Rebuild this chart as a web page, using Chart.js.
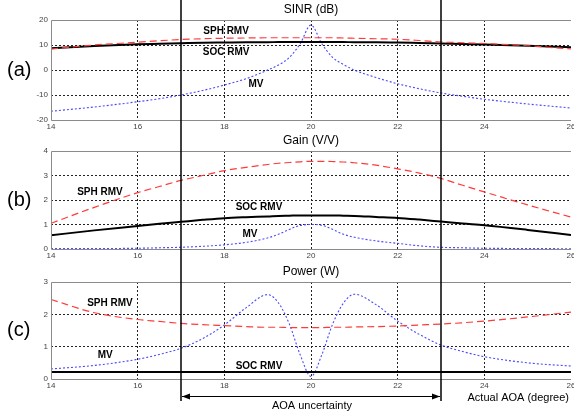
<!DOCTYPE html>
<html>
<head>
<meta charset="UTF-8">
<title>SINR / Gain / Power vs actual AOA</title>
<script src="https://cdn.jsdelivr.net/npm/chart.js"></script>
<style>
  body { margin: 0; background: #fff; }
  #wrap { position: relative; width: 574px; height: 415px; overflow: hidden; }
  .panel { position: absolute; left: 0; width: 574px; }
</style>
</head>
<body>
<div id="wrap">
  <div class="panel" style="top:0;height:132px"><canvas id="cA"></canvas></div>
  <div class="panel" style="top:132px;height:130px"><canvas id="cB"></canvas></div>
  <div class="panel" style="top:262px;height:153px"><canvas id="cC"></canvas></div>
</div>
<script>
// actual AOA (degree), sampled denser around the 20 degree look direction
const angles = [14, 15, 16, 16.5, 17, 17.5, 18, 18.5, 19, 19.25, 19.5, 19.75, 20,
                20.25, 20.5, 20.75, 21, 21.5, 22, 22.5, 23, 23.5, 24, 25, 26];
const uncertainty = [17, 23];

// (a) SINR (dB)
const sinrSph = [8.4, 10, 11.1, 11.7, 12.2, 12.5, 12.7, 12.8, 12.9, 12.9, 12.9, 12.9, 12.9,
                 12.9, 12.9, 12.8, 12.7, 12.5, 12.3, 11.8, 11.2, 10.9, 10.6, 9.7, 8.4];
const sinrSoc = [8.7, 9.6, 10.3, 10.5, 10.7, 10.9, 11, 11.1, 11.1, 11.2, 11.2, 11.2, 11.2,
                 11.2, 11.2, 11.2, 11.1, 11.1, 11, 10.8, 10.6, 10.4, 10.2, 9.7, 9.1];
const sinrMv  = [-16.5, -14.8, -12.7, -11.5, -10, -8.2, -6, -3.5, 0, 2, 5, 10.5, 18,
                 10.5, 5, 2.2, 0, -3, -5.5, -7.5, -9.2, -10.5, -11.7, -13.6, -15.2];

// (b) Gain (V/V)
const gainSph = [1.05, 1.7, 2.3, 2.55, 2.8, 3.0, 3.2, 3.33, 3.45, 3.5, 3.53, 3.56, 3.58,
                 3.58, 3.57, 3.55, 3.52, 3.42, 3.27, 3.1, 2.88, 2.6, 2.33, 1.8, 1.3];
const gainSoc = [0.56, 0.76, 0.94, 1.03, 1.11, 1.19, 1.26, 1.3, 1.33, 1.35, 1.36, 1.37, 1.37,
                 1.37, 1.37, 1.36, 1.35, 1.31, 1.27, 1.2, 1.12, 1.04, 0.97, 0.78, 0.57];
const gainMv  = [0.02, 0.02, 0.03, 0.05, 0.07, 0.11, 0.17, 0.27, 0.45, 0.6, 0.8, 0.96, 1.0,
                 0.97, 0.8, 0.6, 0.48, 0.33, 0.23, 0.13, 0.07, 0.05, 0.03, 0.02, 0.01];

// (c) Power (W)
const powSph = [2.46, 2.05, 1.84, 1.78, 1.72, 1.68, 1.65, 1.62, 1.6, 1.6, 1.59, 1.59, 1.59,
                1.59, 1.6, 1.6, 1.61, 1.62, 1.64, 1.67, 1.7, 1.74, 1.79, 1.92, 2.07];
const powSoc = [0.22, 0.22, 0.22, 0.22, 0.22, 0.22, 0.22, 0.22, 0.22, 0.22, 0.22, 0.22, 0.22,
                0.22, 0.22, 0.22, 0.22, 0.22, 0.22, 0.22, 0.22, 0.22, 0.22, 0.22, 0.22];
const powMv  = [0.31, 0.42, 0.61, 0.76, 0.95, 1.25, 1.67, 2.2, 2.61, 2.35, 1.7, 0.75, 0.08,
                0.75, 1.7, 2.35, 2.62, 2.3, 1.79, 1.38, 1.05, 0.85, 0.69, 0.5, 0.4];

const FONT = "'Liberation Sans', Arial, sans-serif";

function pts(vals) {
  return vals.map((v, i) => ({ x: angles[i], y: v }));
}

function series(sph, soc, mv) {
  return [
    { data: pts(sph), borderColor: '#ff3a3a', borderWidth: 1.2, borderDash: [7, 4] },
    { data: pts(soc), borderColor: '#000', borderWidth: 2 },
    { data: pts(mv), borderColor: '#4a4aff', borderWidth: 1.1, borderDash: [2, 2] }
  ];
}

const decor = {
  id: 'decor',
  afterDraw(chart, args, o) {
    const { ctx, chartArea: a, scales: { x, y } } = chart;
    ctx.save();
    // box (no right edge, it is cut off)
    ctx.strokeStyle = '#8a8a8a';
    ctx.lineWidth = 1;
    ctx.beginPath();
    ctx.moveTo(a.right, a.top + 0.5);
    ctx.lineTo(a.left + 0.5, a.top + 0.5);
    ctx.lineTo(a.left + 0.5, a.bottom + 0.5);
    ctx.lineTo(a.right, a.bottom + 0.5);
    ctx.stroke();

    ctx.fillStyle = '#000';
    ctx.textAlign = 'center';
    ctx.textBaseline = 'middle';
    ctx.font = '12px ' + FONT;
    ctx.fillText(o.title, (a.left + a.right) / 2, a.top - 10);

    ctx.textAlign = 'left';
    ctx.font = '20px ' + FONT;
    ctx.fillText(o.letter, 7, (a.top + a.bottom) / 2);

    ctx.textAlign = 'center';
    ctx.font = '600 10px ' + FONT;
    o.labels.forEach(l => {
      ctx.fillText(l.text, x.getPixelForValue(l.x), y.getPixelForValue(l.y));
    });

    // uncertainty bounds
    ctx.strokeStyle = '#000';
    ctx.lineWidth = 1.5;
    uncertainty.forEach(v => {
      const px = x.getPixelForValue(v);
      ctx.beginPath();
      ctx.moveTo(px, 0);
      ctx.lineTo(px, o.lineEnd || chart.height);
      ctx.stroke();
    });

    if (o.arrow) {
      const x1 = x.getPixelForValue(uncertainty[0]) + 1;
      const x2 = x.getPixelForValue(uncertainty[1]) - 1;
      const ay = a.bottom + 17.5;
      ctx.lineWidth = 1;
      ctx.beginPath();
      ctx.moveTo(x1, ay);
      ctx.lineTo(x2, ay);
      ctx.stroke();
      ctx.beginPath();
      ctx.moveTo(x1, ay); ctx.lineTo(x1 + 8, ay - 3); ctx.lineTo(x1 + 8, ay + 3);
      ctx.closePath();
      ctx.moveTo(x2, ay); ctx.lineTo(x2 - 8, ay - 3); ctx.lineTo(x2 - 8, ay + 3);
      ctx.closePath();
      ctx.fill();
      ctx.font = '11px ' + FONT;
      ctx.textAlign = 'center';
      ctx.fillText('AOA uncertainty', (x1 + x2) / 2 + 1, a.bottom + 27);
      ctx.textAlign = 'right';
      ctx.fillText('Actual AOA (degree)', 569, a.bottom + 19);
    }
    ctx.restore();
  }
};

function hideEdge(c) {
  if (c.tick && (c.tick.value === c.scale.min || c.tick.value === c.scale.max)) return 'rgba(0,0,0,0)';
  return '#222';
}

function makeChart(id, ds, yMin, yMax, yStep, pad, deco) {
  return new Chart(document.getElementById(id), {
    type: 'line',
    data: { datasets: ds },
    options: {
      responsive: true,
      maintainAspectRatio: false,
      animation: false,
      layout: { padding: { top: pad.top, bottom: pad.bottom, left: 0, right: 3 } },
      elements: { point: { radius: 0 }, line: { cubicInterpolationMode: 'monotone', fill: false } },
      plugins: { legend: { display: false }, tooltip: { enabled: false }, decor: deco },
      scales: {
        x: {
          type: 'linear', min: 14, max: 26,
          ticks: { stepSize: 2, color: '#444', font: { family: FONT, size: 8 }, padding: 2, maxRotation: 0 },
          grid: { color: hideEdge, lineWidth: 1, drawTicks: false },
          border: { display: false, dash: [2, 2] },
          afterFit: s => { s.height = 12; s.paddingLeft = 0; s.paddingRight = 0; }
        },
        y: {
          min: yMin, max: yMax,
          ticks: { stepSize: yStep, color: '#444', font: { family: FONT, size: 8 }, padding: 3 },
          grid: { color: hideEdge, lineWidth: 1, drawTicks: false },
          border: { display: false, dash: [2, 2] },
          afterFit: s => { s.width = 51; }
        }
      }
    },
    plugins: [decor]
  });
}

makeChart('cA', series(sinrSph, sinrSoc, sinrMv), -20, 20, 10, { top: 20, bottom: 0 }, {
  title: 'SINR (dB)', letter: '(a)',
  labels: [
    { text: 'SPH RMV', x: 18.04, y: 15.6 },
    { text: 'SOC RMV', x: 18.04, y: 7.3 },
    { text: 'MV', x: 18.73, y: -5.6 }
  ]
});

makeChart('cB', series(gainSph, gainSoc, gainMv), 0, 4, 1, { top: 19, bottom: 1 }, {
  title: 'Gain (V/V)', letter: '(b)',
  labels: [
    { text: 'SPH RMV', x: 15.13, y: 2.33 },
    { text: 'SOC RMV', x: 18.8, y: 1.71 },
    { text: 'MV', x: 18.59, y: 0.61 }
  ]
});

makeChart('cC', series(powSph, powSoc, powMv), 0, 3, 1, { top: 20, bottom: 24 }, {
  title: 'Power (W)', letter: '(c)', lineEnd: 139, arrow: true,
  labels: [
    { text: 'SPH RMV', x: 15.36, y: 2.35 },
    { text: 'MV', x: 15.25, y: 0.72 },
    { text: 'SOC RMV', x: 18.8, y: 0.4 }
  ]
});
</script>
</body>
</html>
